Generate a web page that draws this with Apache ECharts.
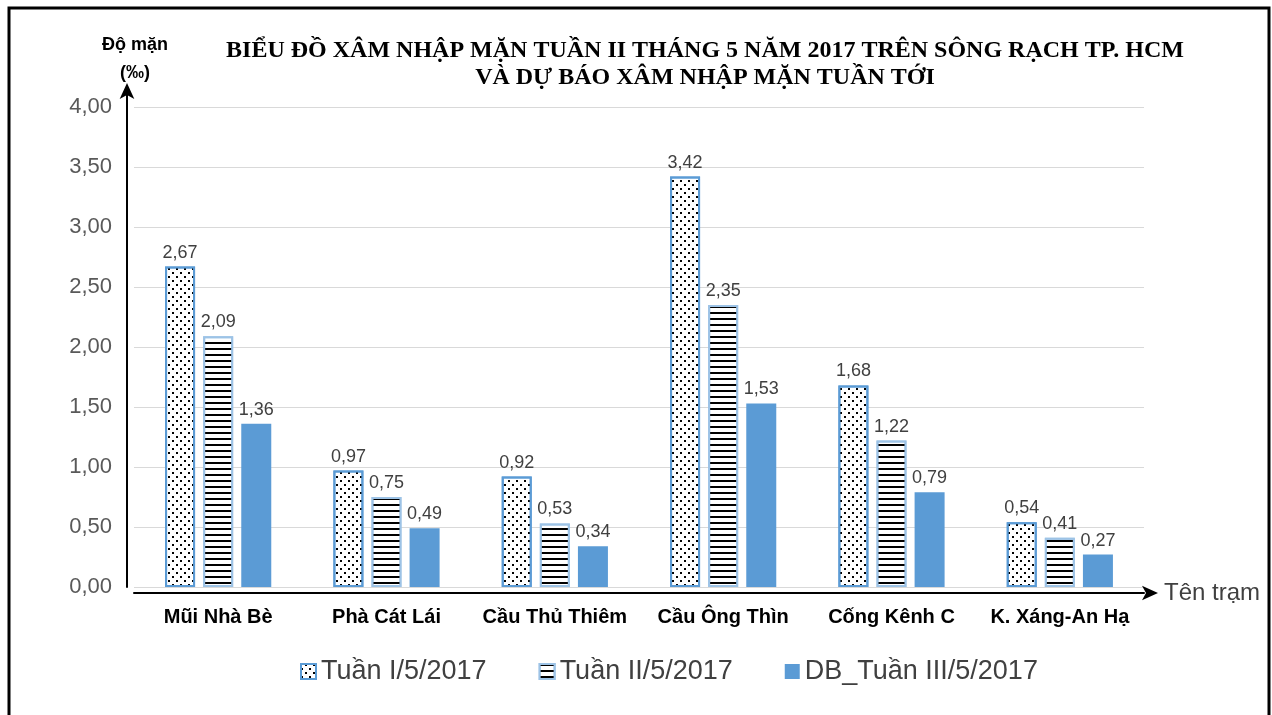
<!DOCTYPE html>
<html>
<head>
<meta charset="utf-8">
<script src="https://cdn.jsdelivr.net/npm/echarts@6/dist/echarts.min.js"></script>
<style>
html,body{margin:0;padding:0;background:#fff;}
#chart{width:1272px;height:715px;}
</style>
</head>
<body>
<div id="chart"></div>
<script>
var categories = ['Mũi Nhà Bè', 'Phà Cát Lái', 'Cầu Thủ Thiêm', 'Cầu Ông Thìn', 'Cống Kênh C', 'K. Xáng-An Hạ'];
var seriesNames = ['Tuần I/5/2017', 'Tuần II/5/2017', 'DB_Tuần III/5/2017'];
var week1 = [2.67, 0.97, 0.92, 3.42, 1.68, 0.54];
var week2 = [2.09, 0.75, 0.53, 2.35, 1.22, 0.41];
var week3Forecast = [1.36, 0.49, 0.34, 1.53, 0.79, 0.27];
var yTicks = [0, 0.5, 1, 1.5, 2, 2.5, 3, 3.5, 4];

var fmt = function (v) { return Number(v).toFixed(2).replace('.', ','); };
var FONT = 'Liberation Sans';

var chart = echarts.init(document.getElementById('chart'));

var labelOpt = {
  show: true, position: 'top', distance: 5,
  fontFamily: FONT, fontSize: 18, color: '#404040',
  formatter: function (p) { return fmt(p.value); }
};

chart.setOption({
  backgroundColor: '#fff',
  animation: false,
  textStyle: { fontFamily: FONT },
  title: {
    text: 'BIỂU ĐỒ XÂM NHẬP MẶN TUẦN II THÁNG 5 NĂM 2017 TRÊN SÔNG RẠCH TP. HCM\nVÀ DỰ BÁO XÂM NHẬP MẶN TUẦN TỚI',
    left: 700, top: 32, textAlign: 'center',
    textStyle: { fontFamily: 'Liberation Serif', fontWeight: 'bold', fontSize: 24, lineHeight: 27, color: '#000' }
  },
  legend: {
    data: seriesNames,
    left: 295, top: 653,
    itemWidth: 15, itemHeight: 15, itemGap: 52,
    icon: 'rect',
    textStyle: { fontFamily: FONT, fontSize: 27, color: '#404040' }
  },
  graphic: [{
    type: 'rect', silent: true,
    shape: { x: 9, y: 8, width: 1260, height: 720 },
    style: { fill: 'none', stroke: '#000', lineWidth: 3 }
  }],
  grid: { left: 134, right: 128, top: 89, bottom: 128 },
  xAxis: {
    type: 'category',
    data: categories,
    offset: 6,
    name: 'Tên trạm', nameLocation: 'end', nameGap: 20,
    nameTextStyle: { fontFamily: FONT, fontSize: 24, color: '#404040', verticalAlign: 'middle', padding: [2, 0, 0, 0] },
    axisLine: { show: true, onZero: false, symbol: ['none', 'arrow'], symbolSize: [11, 16], symbolOffset: [0, 14], lineStyle: { color: '#000', width: 2 } },
    axisTick: { show: false },
    axisLabel: { interval: 0, fontFamily: FONT, fontSize: 20, fontWeight: 'bold', color: '#000', margin: 14 }
  },
  yAxis: {
    type: 'value',
    min: 0, max: 4.15, interval: 0.5,
    offset: 7,
    name: 'Độ mặn\n(‰)', nameLocation: 'end', nameGap: 2,
    nameTextStyle: { fontFamily: FONT, fontSize: 18, fontWeight: 'bold', color: '#000', lineHeight: 28, padding: [0, 0, 0, 16] },
    axisLine: { show: true, symbol: ['none', 'arrow'], symbolSize: [11, 16], symbolOffset: [0, 6], lineStyle: { color: '#000', width: 2 } },
    axisTick: { show: false },
    axisLabel: { fontFamily: FONT, fontSize: 22, color: '#595959', margin: 15, showMaxLabel: false,
      formatter: function (v) { return yTicks.indexOf(v) >= 0 ? fmt(v) : ''; } },
    splitLine: { show: true, showMaxLine: false, lineStyle: { color: '#d9d9d9', width: 1 } }
  },
  series: [
    {
      name: seriesNames[0], type: 'bar', data: week1,
      barWidth: 30, barGap: '27%',
      itemStyle: {
        color: '#fff', borderColor: '#5b9bd5', borderWidth: 2,
        decal: { symbol: 'rect', symbolSize: 1, color: '#000', dashArrayX: [[2, 6], [0, 4, 2, 2]], dashArrayY: [2, 2], rotation: 0 }
      },
      label: labelOpt
    },
    {
      name: seriesNames[1], type: 'bar', data: week2,
      barWidth: 30, barGap: '27%',
      itemStyle: {
        color: '#fff', borderColor: '#9dc3e6', borderWidth: 2,
        decal: { symbol: 'rect', symbolSize: 1, color: '#000', dashArrayX: [1, 0], dashArrayY: [2, 3.6], rotation: 0 }
      },
      label: labelOpt
    },
    {
      name: seriesNames[2], type: 'bar', data: week3Forecast,
      barWidth: 30, barGap: '27%',
      itemStyle: { color: '#5b9bd5' },
      label: labelOpt
    }
  ]
});
</script>
</body>
</html>
